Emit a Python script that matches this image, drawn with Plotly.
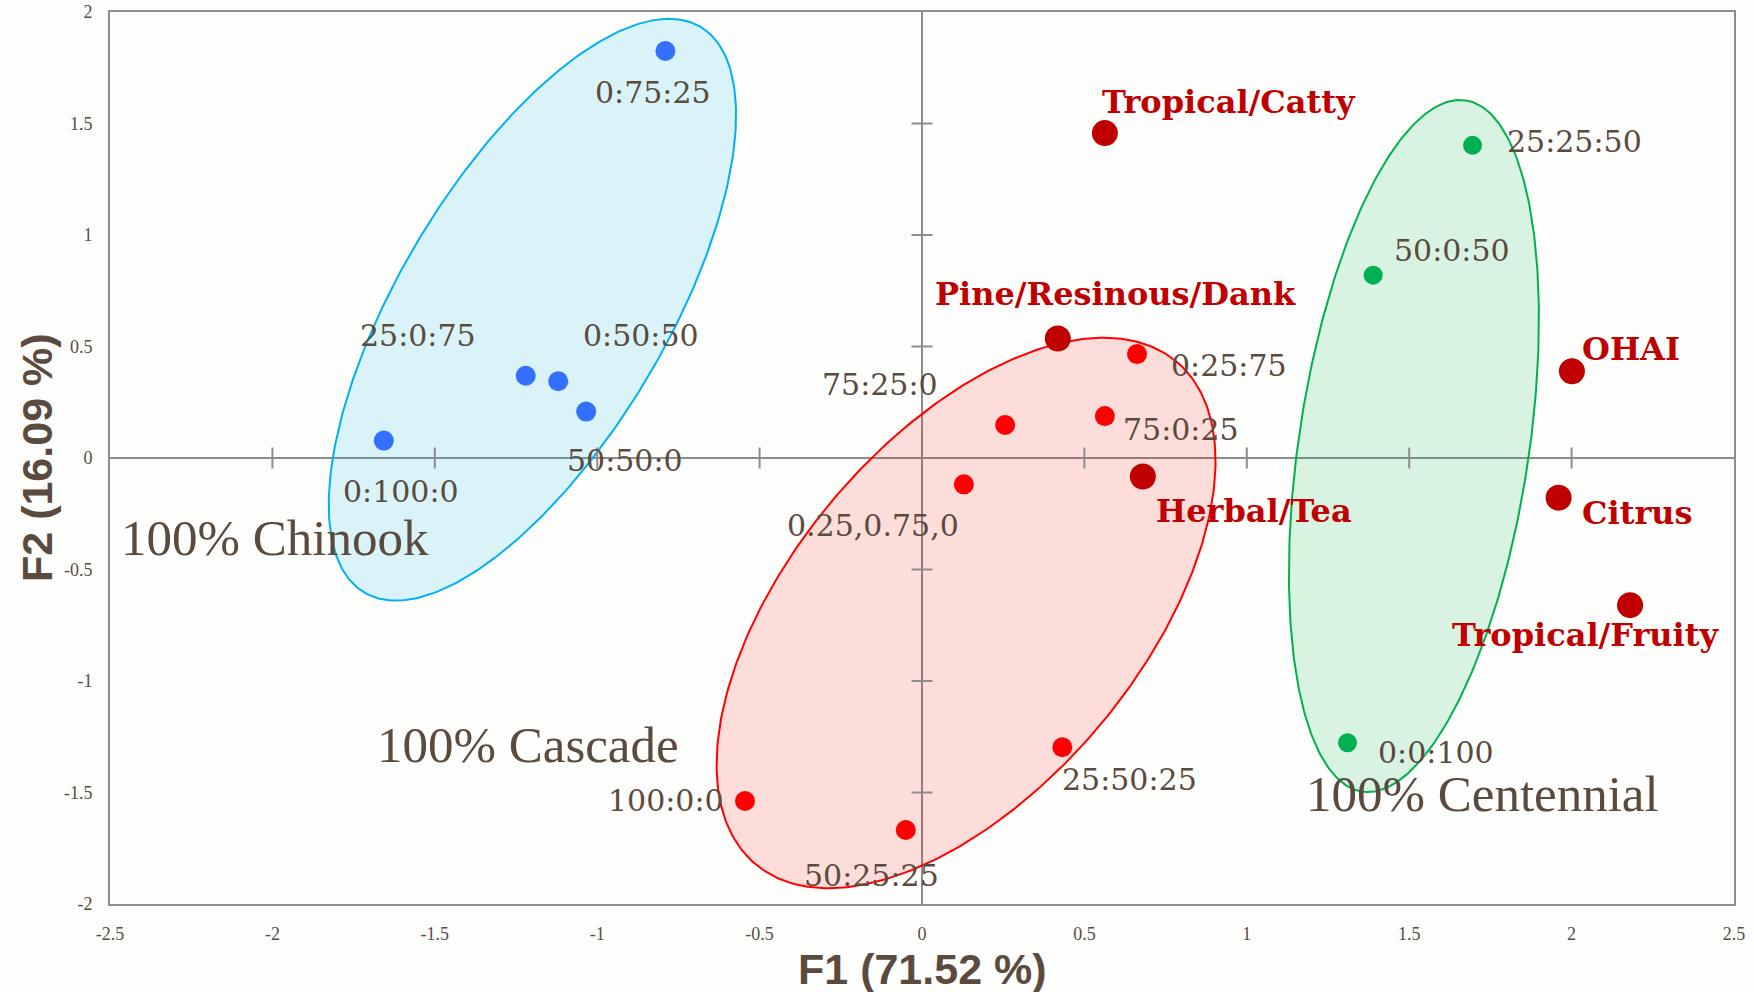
import numpy as np
import plotly.graph_objects as go

# ---- data: PCA scores (F1, F2) ----
chinook_labels = ["0:75:25", "25:0:75", "0:50:50", "50:50:0", "0:100:0"]
chinook_f1 = [-0.790, -1.220, -1.120, -1.034, -1.657]
chinook_f2 = [1.825, 0.369, 0.344, 0.208, 0.078]

cascade_labels = ["75:25:0", "0:25:75", "75:0:25", "0.25,0.75,0", "25:50:25", "100:0:0", "50:25:25"]
cascade_f1 = [0.256, 0.662, 0.563, 0.129, 0.432, -0.545, -0.050]
cascade_f2 = [0.148, 0.466, 0.188, -0.118, -1.297, -1.538, -1.668]

centennial_labels = ["25:25:50", "50:0:50", "0:0:100"]
centennial_f1 = [1.695, 1.389, 1.310]
centennial_f2 = [1.402, 0.820, -1.277]

attribute_labels = ["Tropical/Catty", "Pine/Resinous/Dank", "Herbal/Tea", "OHAI", "Citrus", "Tropical/Fruity"]
attribute_f1 = [0.563, 0.418, 0.680, 2.001, 1.960, 2.180]
attribute_f2 = [1.457, 0.536, -0.083, 0.389, -0.178, -0.660]

group_names = ["100% Chinook", "100% Cascade", "100% Centennial"]
group_f1 = [-1.991, -1.213, 1.725]
group_f2 = [-0.358, -1.287, -1.508]

x_ticks = [-2.5, -2, -1.5, -1, -0.5, 0, 0.5, 1, 1.5, 2, 2.5]
y_ticks = [-2, -1.5, -1, -0.5, 0, 0.5, 1, 1.5, 2]

# ---- layout geometry ----
W, H = 1754, 992
M = dict(l=110, r=20, t=12, b=88)
XR, YR = [-2.5, 2.5], [-2, 2]
px_x = (W - M["l"] - M["r"]) / (XR[1] - XR[0])
px_y = (H - M["t"] - M["b"]) / (YR[1] - YR[0])

BROWN = "#5b4b3f"
SERIF = "DejaVu Serif"

# label offsets (pixels) relative to each point: (dx, dy) with dy downwards
chinook_off = [(-12, 41), (-108, -40), (83, -46), (39, 49), (17, 51)]
cascade_off = [(-125, -41), (92, 11), (76, 13), (-91, 41), (67, 32), (-79, 0), (-34, 46)]
centennial_off = [(102, -4), (79, -25), (89, 10)]
attribute_off = [(124, -31), (58, -44), (111, 34), (59, -22), (79, 15), (-44, 30)]

# group ellipses: centre (data), semi-axes (px), tilt (deg)
ellipses = [
    dict(c=(-1.1995, 0.665), a=329, b=133.6, ang=59.25, line="#00b0f0", fill="rgba(0,176,240,0.14)"),
    dict(c=(0.1357, -0.695), a=327.8, b=174.7, ang=50.05, line="#ff0000", fill="rgba(255,0,0,0.13)"),
    dict(c=(1.5145, 0.054), a=349.4, b=115.1, ang=81.5, line="#00b050", fill="rgba(0,176,80,0.14)"),
]

fig = go.Figure()

t = np.linspace(0, 2 * np.pi, 361)
for e in ellipses:
    th = np.radians(e["ang"])
    dx = e["a"] * np.cos(t) * np.cos(th) - e["b"] * np.sin(t) * np.sin(th)
    dy = e["a"] * np.cos(t) * np.sin(th) + e["b"] * np.sin(t) * np.cos(th)
    fig.add_trace(go.Scatter(
        x=e["c"][0] + dx / px_x, y=e["c"][1] + dy / px_y,
        mode="lines", fill="toself", fillcolor=e["fill"],
        line=dict(color=e["line"], width=2), hoverinfo="skip", showlegend=False))

# cross tick marks along the zero lines
inner_x = [v for v in x_ticks if v not in (0, XR[0], XR[1])]
inner_y = [v for v in y_ticks if v not in (0, YR[0], YR[1])]
fig.add_trace(go.Scatter(
    x=inner_x, y=[0] * len(inner_x), mode="markers",
    marker=dict(symbol="line-ns", size=15, line=dict(color="#8c8c8c", width=2)),
    hoverinfo="skip", showlegend=False))
fig.add_trace(go.Scatter(
    x=[0] * len(inner_y), y=inner_y, mode="markers",
    marker=dict(symbol="line-ew", size=15, line=dict(color="#8c8c8c", width=2)),
    hoverinfo="skip", showlegend=False))

series = [
    (chinook_f1, chinook_f2, "#3370ff", 20),
    (cascade_f1, cascade_f2, "#ff0000", 20),
    (centennial_f1, centennial_f2, "#00b050", 19),
    (attribute_f1, attribute_f2, "#c00000", 26),
]
for xs, ys, col, sz in series:
    fig.add_trace(go.Scatter(x=xs, y=ys, mode="markers",
                             marker=dict(color=col, size=sz), showlegend=False))

ann = []
for labels, xs, ys, offs in [(chinook_labels, chinook_f1, chinook_f2, chinook_off),
                             (cascade_labels, cascade_f1, cascade_f2, cascade_off),
                             (centennial_labels, centennial_f1, centennial_f2, centennial_off)]:
    for lab, x, y, (ox, oy) in zip(labels, xs, ys, offs):
        ann.append(dict(x=x, y=y, text=lab, showarrow=False, xshift=ox, yshift=-oy,
                        xanchor="center", yanchor="middle",
                        font=dict(family=SERIF, size=30, color=BROWN)))
for lab, x, y, (ox, oy) in zip(attribute_labels, attribute_f1, attribute_f2, attribute_off):
    ann.append(dict(x=x, y=y, text="<b>%s</b>" % lab, showarrow=False, xshift=ox, yshift=-oy,
                    xanchor="center", yanchor="middle",
                    font=dict(family=SERIF, size=32, color="#c00000")))
for lab, x, y in zip(group_names, group_f1, group_f2):
    ann.append(dict(x=x, y=y, text=lab, showarrow=False, xanchor="center", yanchor="middle",
                    font=dict(family="Liberation Serif", size=51, color=BROWN)))

# axis titles
ann.append(dict(xref="paper", yref="paper", x=0.5, y=0, yshift=-65, showarrow=False,
                text="<b>F1 (71.52 %)</b>", xanchor="center", yanchor="middle",
                font=dict(family="Liberation Sans", size=43, color=BROWN)))
ann.append(dict(xref="paper", yref="paper", x=0, y=0.5, xshift=-73, showarrow=False,
                text="<b>F2 (16.09 %)</b>", textangle=-90, xanchor="center", yanchor="middle",
                font=dict(family="Liberation Sans", size=43, color=BROWN)))

axis_common = dict(showgrid=False, zeroline=True, zerolinecolor="#8c8c8c", zerolinewidth=2,
                   showline=True, mirror=True, linecolor="#8c8c8c", linewidth=2,
                   automargin=False,
                   ticks="outside", ticklen=12, tickcolor="rgba(0,0,0,0)",
                   tickfont=dict(family="Liberation Serif", size=18, color=BROWN))

fig.update_layout(
    width=W, height=H, margin=M,
    paper_bgcolor="#fdfefb", plot_bgcolor="#fdfefb",
    xaxis=dict(range=XR, tickvals=x_ticks, ticktext=[f"{v:g}" for v in x_ticks], **axis_common),
    yaxis=dict(range=YR, tickvals=y_ticks, ticktext=[f"{v:g}" for v in y_ticks], **axis_common),
    annotations=ann,
)

fig.write_html("out.html")
